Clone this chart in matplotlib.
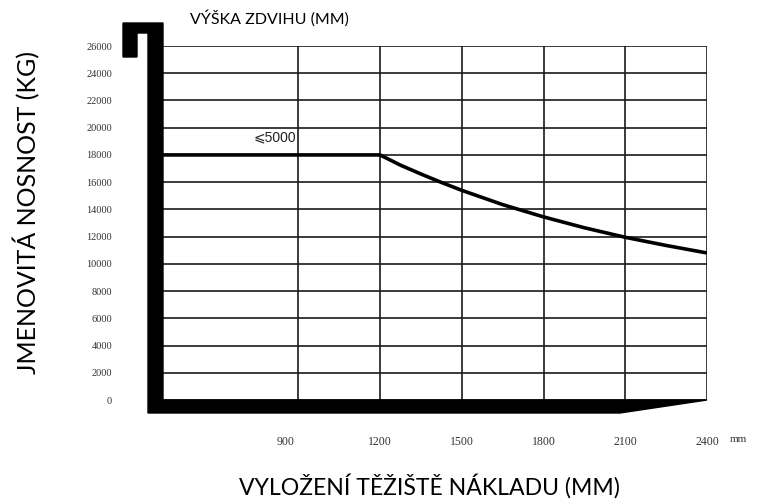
import matplotlib
matplotlib.use("Agg")
from matplotlib import pyplot as plt
from matplotlib import patches as patches
from matplotlib import transforms as mtransforms

# load centre (mm) vs rated capacity (kg)
load_centre = [400, 1200, 1275, 1350, 1425, 1500, 1650, 1800, 1950, 2100, 2250, 2400]
capacity = [18000, 18000, 17250, 16600, 15980, 15400, 14350, 13450, 12650, 11950, 11350, 10800]

xticks = [900, 1200, 1500, 1800, 2100, 2400]
xticklabels = [str(v) for v in xticks]
yticks = list(range(0, 26001, 2000))
yticklabels = [str(v) for v in yticks]

W, H = 758, 504
fig = plt.figure(figsize=(W / 100, H / 100), dpi=100)


def px(x, y):
    # reference pixel -> figure fraction
    return (x / W, 1 - y / H)


l, t = px(162, 46)
r, b = px(707, 400)
ax = fig.add_axes([l, b, r - l, t - b])

ax.set_xlim(400, 2400)
ax.set_ylim(0, 26000)
for s in ax.spines.values():
    s.set_visible(False)

ax.set_xticks(xticks, xticklabels)
ax.set_yticks(yticks, yticklabels)
ax.tick_params(length=0)
ax.tick_params(axis="y", pad=36, labelsize=7.5, labelcolor="#333")
ax.tick_params(axis="x", pad=26, labelsize=8.5, labelcolor="#333")
for lab in ax.get_xticklabels() + ax.get_yticklabels():
    lab.set_fontfamily("Liberation Serif")
ax.grid(True, color="#1a1a1a", lw=1.2)

# the 900 label sits a little left of its line
off = mtransforms.ScaledTranslation(-13 / 100, 0, fig.dpi_scale_trans)
lab900 = ax.get_xticklabels()[0]
lab900.set_transform(lab900.get_transform() + off)

# capacity curve
ax.plot(load_centre, capacity, color="black", lw=2.6, solid_capstyle="butt",
        zorder=5)
ax.text(815, 18750, "⩽5000", fontsize=10, ha="center", va="bottom",
        family=["Liberation Sans Narrow", "Liberation Sans", "DejaVu Sans"],
        color="#222")

# thick L-shaped frame with the hook at the top
frame_px = [(123, 23), (163, 23), (163, 400), (707, 400), (620, 413),
            (148, 413), (148, 33), (137, 33), (137, 57), (123, 57)]
frame = patches.Polygon([px(x, y) for x, y in frame_px], closed=True,
                        facecolor="black", edgecolor="black",
                        transform=fig.transFigure, zorder=10)
fig.patches.append(frame)

fig.text(*px(738, 440), "mm", fontsize=8, family="Liberation Serif",
         color="#333", ha="center", va="center")

fig.text(*px(190, 18), "VÝŠKA ZDVIHU (MM)", fontsize=11.5, family="Lato",
         ha="left", va="center")
fig.text(*px(429, 486), "VYLOŽENÍ TĚŽIŠTĚ NÁKLADU (MM)", fontsize=16.6,
         family="Lato", ha="center", va="center")
fig.text(*px(27, 213), "JMENOVITÁ NOSNOST (KG)", fontsize=18,
         family="Lato", ha="center", va="center", rotation=90)

fig.savefig("out.png", dpi=100)
